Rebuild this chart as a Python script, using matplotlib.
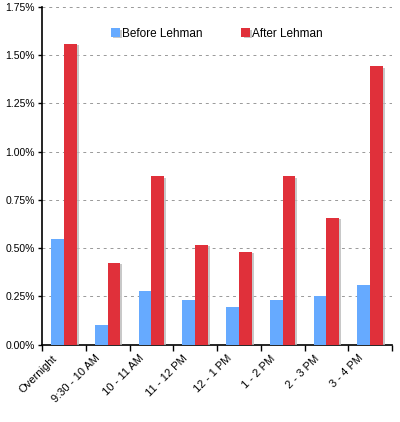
import numpy as np
import matplotlib
matplotlib.use("Agg")
import matplotlib.pyplot as plt
import matplotlib.patheffects as pe
import matplotlib.transforms as mtransforms
from matplotlib.ticker import FuncFormatter, MultipleLocator

categories = ["Overnight", "9:30 - 10 AM", "10 - 11 AM", "11 - 12 PM",
              "12 - 1 PM", "1 - 2 PM", "2 - 3 PM", "3 - 4 PM"]
before = [0.547, 0.102, 0.280, 0.231, 0.195, 0.233, 0.252, 0.309]
after = [1.559, 0.423, 0.872, 0.516, 0.480, 0.873, 0.656, 1.441]

plt.rcParams['font.family'] = ['Liberation Sans', 'DejaVu Sans']

fig = plt.figure(figsize=(4, 4.22), dpi=100)
ax = fig.add_axes([0.105, 0.183, 0.875, 0.801])

x = np.arange(len(categories))
w = 0.29
shadow = [pe.SimplePatchShadow(offset=(1.5, -1), shadow_rgbFace='#bbbbbb', alpha=0.8), pe.Normal()]
b1 = ax.bar(x - w / 2, before, w, color='#66aaff', label='Before Lehman', zorder=3)
b2 = ax.bar(x + w / 2, after, w, color='#e0303a', label='After Lehman', zorder=3)
for b in list(b1) + list(b2):
    b.set_path_effects(shadow)

ax.set_xlim(-0.5, len(categories) - 0.5)
ax.set_ylim(0, 1.75)
ax.yaxis.set_major_locator(MultipleLocator(0.25))
ax.yaxis.set_major_formatter(FuncFormatter(lambda v, p: "{:.2f}%".format(v)))
ax.grid(axis='y', color='#999999', linestyle=(0, (3, 4)), linewidth=0.7, zorder=0)

ax.set_xticks(np.arange(len(categories) + 1) - 0.5)
ax.set_xticklabels([])
ax.set_xticks(x, minor=True)
ax.set_xticklabels(categories, minor=True, rotation=45, ha='right', rotation_mode='anchor', fontsize=8)
ax.tick_params(axis='x', which='minor', length=0, pad=6)
ax.tick_params(axis='x', which='major', length=4, width=1, direction='out')
ax.tick_params(axis='y', length=3, width=1, labelsize=7.5, pad=2)

# shift the rotated labels a bit left, like the original
shift = mtransforms.ScaledTranslation(-9 / 72, 0, fig.dpi_scale_trans)
for lab in ax.get_xticklabels(minor=True):
    lab.set_transform(lab.get_transform() + shift)

for s in ['top', 'right']:
    ax.spines[s].set_visible(False)
ax.spines['left'].set_linewidth(1.2)
ax.spines['bottom'].set_linewidth(1.2)

ax.legend(loc='upper center', bbox_to_anchor=(0.5, 0.97), ncol=2, frameon=False,
          fontsize=8.5, handlelength=0.7, handleheight=0.7, handletextpad=0.2,
          columnspacing=3.3)

plt.savefig("out.png", dpi=100)
